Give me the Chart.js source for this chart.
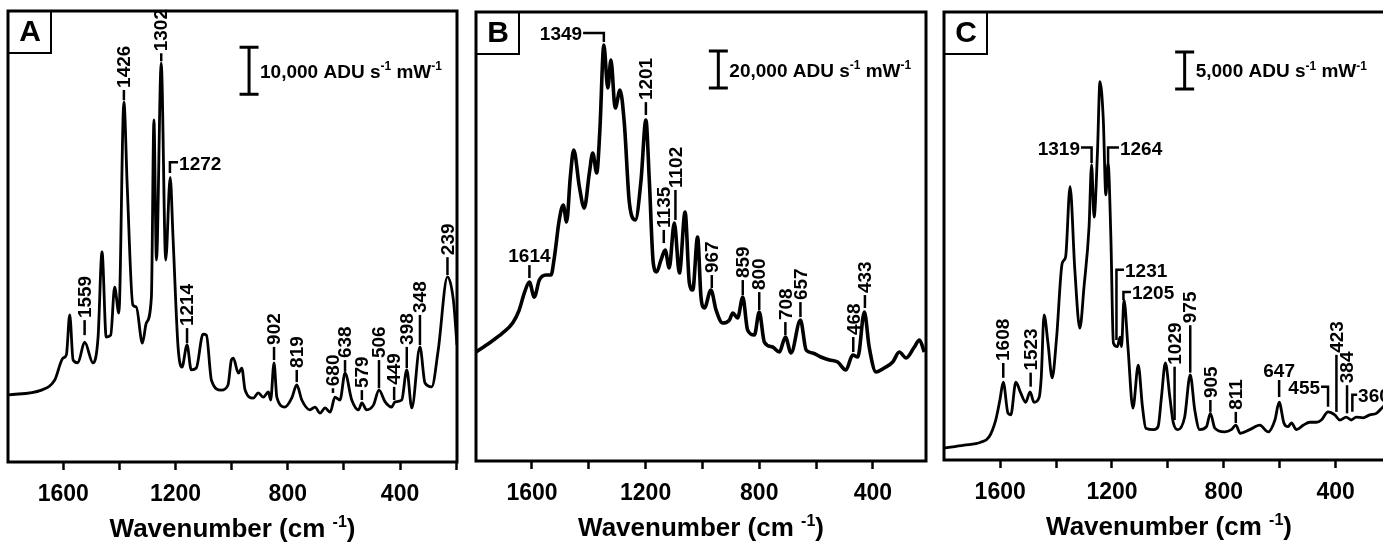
<!DOCTYPE html>
<html>
<head>
<meta charset="utf-8">
<title>Raman spectra A, B, C</title>
<script src="https://cdn.jsdelivr.net/npm/chart.js@4.4.1/dist/chart.umd.min.js"></script>
<style>
  html, body { margin: 0; padding: 0; background: #fff; }
  body { width: 1383px; height: 542px; overflow: hidden; position: relative; }
  canvas.panel { position: absolute; top: 0; }
</style>
</head>
<body>
<canvas id="chartA" class="panel" width="462" height="542" style="left:0px"></canvas>
<canvas id="chartB" class="panel" width="466" height="542" style="left:466px"></canvas>
<canvas id="chartC" class="panel" width="466" height="542" style="left:934px"></canvas>
<script>
// ---- panel A (intensity in 1000 ADU s-1 mW-1) ----
const aWave = [1797, 1678, 1631, 1601, 1589, 1577, 1565, 1548, 1524, 1494, 1476, 1462, 1447, 1431, 1417, 1402,
  1384, 1372, 1352, 1340, 1318, 1304, 1286, 1277, 1268, 1251, 1235, 1219, 1209, 1191, 1177, 1159, 1144, 1126,
  1102, 1090, 1072, 1037, 1013, 1001, 994, 976, 964, 952, 923, 905, 887, 869, 861, 849, 839, 810, 786, 768, 750,
  721, 703, 685, 667, 649, 632, 614, 596, 572, 548, 536, 519, 495, 475, 453, 430, 418, 394, 376, 358, 329, 311,
  287, 264, 231, 210, 197];
const aInt = [14.3, 15.3, 17.4, 22.1, 22.8, 31.3, 21.7, 21.1, 25.5, 21.1, 26.6, 44.7, 26.6, 27.0, 37.2, 31.7,
  76.6, 58.5, 33.4, 33.0, 25.3, 29.6, 35.1, 72.8, 43.0, 84.9, 43.0, 60.6, 47.9, 24.5, 20.2, 24.9, 19.6, 20.0,
  27.2, 27.0, 17.4, 15.3, 16.4, 21.7, 22.1, 18.9, 20.0, 15.3, 13.6, 14.7, 13.8, 14.9, 13.2, 21.1, 13.8, 11.7, 13.6,
  16.4, 13.2, 11.1, 11.7, 10.4, 11.5, 10.6, 13.8, 13.2, 18.9, 13.2, 11.1, 12.6, 11.1, 12.1, 15.3, 12.8, 11.7, 12.8,
  13.2, 19.6, 11.5, 24.5, 16.8, 16.0, 23.8, 39.4, 34.5, 24.9];
const aPeakText = ['1559', '1426', '1302', '1272', '1214', '902', '819', '680', '638', '579', '506', '449', '398', '348', '239'];
const aPeakPos  = [1524, 1384, 1251, 1220, 1159, 849, 768, 639, 596, 536, 475, 421, 376, 329, 231];
const aPeakLow  = [27.0, 77.0, 85.3, 61.5, 25.3, 21.7, 17.0, 14.7, 19.2, 13.2, 15.7, 13.2, 20.0, 24.9, 39.8];
const aPeakHigh = [30.2, 79.2, 87.0, 63.8, 28.5, 24.5, 19.6, 15.7, 21.7, 15.3, 21.7, 16.0, 24.5, 31.3, 43.6];
const aPeakKind = ['v', 'v', 'v', 'R', 'v', 'v', 'v', 'v', 'v', 'v', 'v', 'v', 'v', 'v', 'v'];
const aPeakArm  = [null, null, null, 1191, null, null, null, null, null, null, null, null, null, null, null];
const aBar = [938, 78.3, 10];          // wavenumber, base, length (1000 ADU)
const aBarText = '10,000';

// ---- panel B ----
const bWave = [1797, 1750, 1703, 1668, 1645, 1627, 1609, 1592, 1574, 1551, 1533, 1521, 1504, 1490, 1478, 1465,
  1453, 1433, 1416, 1398, 1386, 1372, 1361, 1347, 1333, 1322, 1307, 1290, 1275, 1257, 1236, 1216, 1199, 1187,
  1173, 1161, 1146, 1131, 1117, 1099, 1081, 1061, 1046, 1034, 1017, 1005, 993, 970, 952, 929, 905, 893, 876, 858,
  841, 817, 800, 782, 753, 729, 708, 688, 655, 635, 612, 583, 553, 524, 495, 471, 453, 430, 413, 389, 360, 330,
  307, 283, 254, 236, 219];
const bInt = [58.9, 63.8, 69.2, 74.6, 81.6, 90.8, 96.7, 88.6, 97.8, 100.5, 100.5, 110.3, 130.3, 138.4, 129.2, 153.5,
  168.1, 148.1, 136.7, 155.7, 166.5, 155.7, 178.9, 224.8, 201.6, 216.7, 190.8, 200.5, 182.7, 139.4, 130.3, 151.9,
  184.3, 151.9, 107.0, 102.2, 108.6, 114.0, 104.3, 128.6, 101.6, 134.6, 96.2, 92.4, 121.1, 88.6, 82.7, 92.4, 81.6,
  74.6, 76.2, 80.0, 77.3, 88.6, 70.8, 68.1, 80.5, 64.3, 61.6, 58.9, 67.0, 58.4, 76.2, 60.0, 58.4, 56.2, 54.6, 53.5,
  49.2, 57.3, 56.2, 80.5, 61.6, 48.1, 50.3, 53.5, 58.9, 55.7, 61.6, 65.4, 58.9];
const bPeakText = ['1614', '1349', '1201', '1135', '1102', '967', '859', '800', '708', '657', '468', '433'];
const bPeakPos  = [1609, 1347, 1199, 1136, 1095, 967, 858, 800, 708, 655, 469, 428];
const bPeakLow  = [98.9, 226.5, 187.0, 117.8, 130.3, 93.5, 89.7, 81.6, 68.1, 77.8, 58.9, 82.7];
const bPeakHigh = [105.9, 231.3, 194.0, 124.9, 146.5, 100.5, 97.8, 91.3, 75.1, 85.9, 67.0, 89.7];
const bPeakKind = ['up', 'L', 'v', 'v', 'v', 'v', 'v', 'v', 'v', 'v', 'v', 'v'];
const bPeakArm  = [null, 1420, null, null, null, null, null, null, null, null, null, null];
const bBar = [944, 201.6, 20];
const bBarText = '20,000';

// ---- panel C ----
const cWave = [1801, 1729, 1670, 1640, 1616, 1601, 1589, 1572, 1562, 1544, 1527, 1509, 1493, 1479, 1461, 1453,
  1443, 1429, 1414, 1398, 1378, 1366, 1350, 1333, 1315, 1300, 1282, 1273, 1264, 1252, 1243, 1231, 1222, 1214,
  1204, 1195, 1181, 1171, 1166, 1157, 1143, 1125, 1106, 1091, 1079, 1050, 1035, 1023, 1009, 993, 981, 964, 940,
  920, 904, 886, 862, 848, 832, 797, 773, 757, 741, 707, 671, 641, 617, 602, 585, 570, 558, 540, 516, 492, 469,
  451, 427, 403, 385, 362, 344, 326, 302, 278, 254, 230, 200];
const cInt = [1.6, 2.0, 2.4, 3.1, 5.4, 8.1, 10.5, 6.3, 6.1, 10.5, 9.1, 7.8, 9.2, 7.8, 8.4, 11.2,
  19.6, 15.8, 11.1, 16.6, 26.6, 27.4, 36.9, 25.7, 17.8, 23.4, 31.5, 39.9, 32.8, 41.5, 51.1, 45.9, 35.8, 40.1,
  30.1, 15.8, 15.3, 16.6, 15.3, 21.6, 15.3, 7.0, 12.8, 7.2, 4.3, 4.1, 4.5, 8.5, 13.1, 8.5, 5.1, 4.1, 5.8,
  11.5, 6.8, 4.1, 4.5, 6.3, 4.3, 3.8, 4.1, 4.7, 3.6, 4.1, 4.7, 3.8, 5.4, 7.8, 5.0, 4.5, 5.0, 4.1, 4.7, 5.1, 5.1,
  5.4, 6.5, 6.1, 5.4, 5.8, 5.4, 5.8, 5.7, 6.1, 6.3, 7.2, 8.1];
const cPeakText = ['1608', '1523', '1319', '1264', '1231', '1205', '1029', '975', '905', '811', '647', '455', '423', '384', '360'];
const cPeakPos  = [1589, 1491, 1273, 1214, 1184, 1159, 976, 920, 848, 757, 602, 427, 397, 359, 340];
const cPeakLow  = [11.1, 9.9, 40.1, 40.1, 16.2, 21.6, 5.4, 11.8, 6.5, 5.0, 8.5, 7.2, 6.5, 6.3, 6.5];
const cPeakHigh = [13.1, 11.8, 42.2, 42.2, 25.7, 22.7, 12.6, 18.2, 8.1, 6.5, 10.8, 9.9, 14.2, 10.1, 8.8];
const cPeakKind = ['v', 'v', 'L', 'R', 'R', 'R', 'v', 'v', 'v', 'v', 'up', 'L', 'v', 'v', 'R'];
const cPeakArm  = [null, null, 1311, 1175, 1157, 1132, null, null, null, null, null, 452, null, null, 323];
const cBar = [940, 50.1, 5];
const cBarText = '5,000';

// x axis: tick marks every 200, labels every 400
const tickMarks = [1600, 1400, 1200, 1000, 800, 600, 400, 200];
const tickValues = [1600, 1200, 800, 400];
const FONT = '"Liberation Sans", Arial, Helvetica, sans-serif';

// draw text runs, some of them as superscript; returns end x
function drawRuns(ctx, x, y, runs, size, measureOnly) {
    runs.forEach(function(r) {
        const sup = r[1];
        const s = sup ? Math.round(size * 0.62) : size;
        ctx.font = 'bold ' + s + 'px ' + FONT;
        if (!measureOnly) {
            ctx.fillText(r[0], x, sup ? y - size * 0.4 : y);
        }
        x += ctx.measureText(r[0]).width;
    });
    return x;
}

const panelDecor = {
    id: 'panelDecor',
    afterDatasetsDraw(chart, args, opts) {
        const ctx = chart.ctx;
        const a = chart.chartArea;
        const xs = chart.scales.x;
        const ys = chart.scales.y;
        ctx.save();
        ctx.strokeStyle = '#000';
        ctx.fillStyle = '#000';

        // frame
        ctx.lineWidth = 3;
        ctx.strokeRect(a.left, a.top, a.right - a.left, a.bottom - a.top);

        // panel letter
        ctx.lineWidth = 2;
        ctx.strokeRect(a.left, a.top, 43, 42);
        ctx.font = 'bold 30px ' + FONT;
        ctx.textAlign = 'center';
        ctx.textBaseline = 'middle';
        ctx.fillText(opts.letter, a.left + 22, a.top + 22);

        // peak labels
        ctx.lineWidth = 2.5;
        ctx.font = 'bold 19px ' + FONT;
        opts.text.forEach(function(t, i) {
            const px = xs.getPixelForValue(opts.pos[i]);
            const y0 = ys.getPixelForValue(opts.low[i]);
            const y1 = ys.getPixelForValue(opts.high[i]);
            const kind = opts.kind[i];
            ctx.beginPath();
            ctx.moveTo(px, y0);
            ctx.lineTo(px, y1);
            let tx = px;
            if (kind === 'L' || kind === 'R') {
                tx = xs.getPixelForValue(opts.arm[i]);
                ctx.lineTo(tx, y1);
            }
            ctx.stroke();
            if (kind === 'v') {
                ctx.save();
                ctx.translate(px + 1, y1 - 2);
                ctx.rotate(-Math.PI / 2);
                ctx.textAlign = 'left';
                ctx.textBaseline = 'middle';
                ctx.fillText(t, 0, 0);
                ctx.restore();
            } else if (kind === 'up') {
                ctx.textAlign = 'center';
                ctx.textBaseline = 'alphabetic';
                ctx.fillText(t, px, y1 - 3);
            } else {
                ctx.textAlign = kind === 'L' ? 'right' : 'left';
                ctx.textBaseline = 'middle';
                ctx.fillText(t, kind === 'L' ? tx - 1 : tx + 1, y1 + 2);
            }
        });

        // intensity scale bar
        const bx = xs.getPixelForValue(opts.bar[0]);
        const b0 = ys.getPixelForValue(opts.bar[1]);
        const b1 = ys.getPixelForValue(opts.bar[1] + opts.bar[2]);
        ctx.lineWidth = 3;
        ctx.beginPath();
        ctx.moveTo(bx, b0); ctx.lineTo(bx, b1);
        ctx.moveTo(bx - 9.5, b0); ctx.lineTo(bx + 9.5, b0);
        ctx.moveTo(bx - 9.5, b1); ctx.lineTo(bx + 9.5, b1);
        ctx.stroke();
        ctx.textAlign = 'left';
        ctx.textBaseline = 'alphabetic';
        drawRuns(ctx, bx + 11, (b0 + b1) / 2 + 7,
            [[opts.barText + ' ADU s', false], ['-1', true], [' mW', false], ['-1', true]], 19);

        // axis title
        const title = [['Wavenumber (cm ', false], ['-1', true], [')', false]];
        const w = drawRuns(ctx, 0, 0, title, 26, true);
        drawRuns(ctx, (a.left + a.right) / 2 - w / 2, a.bottom + 75, title, 26);
        ctx.restore();
    }
};

function makePanel(id, wave, inten, xMin, xMax, yMax, axisH, pad, lineW, decor) {
    const canvas = document.getElementById(id);
    return new Chart(canvas.getContext('2d'), {
        type: 'line',
        data: {
            datasets: [{
                data: wave.map(function(w, i) { return { x: w, y: inten[i] }; }),
                borderColor: '#000',
                borderWidth: lineW,
                pointRadius: 0,
                cubicInterpolationMode: 'monotone',
                fill: false
            }]
        },
        options: {
            responsive: false,
            animation: false,
            devicePixelRatio: 1,
            layout: { padding: pad },
            plugins: {
                legend: { display: false },
                tooltip: { enabled: false },
                panelDecor: decor
            },
            scales: {
                x: {
                    type: 'linear',
                    reverse: true,
                    min: xMin,
                    max: xMax,
                    afterBuildTicks: function(s) {
                        s.ticks = tickMarks.filter(function(v) { return v >= xMin && v <= xMax; })
                            .map(function(v) { return { value: v }; });
                    },
                    afterFit: function(s) {
                        // fixed axis band, no extra side padding for edge labels
                        s.height = axisH;
                        s.paddingLeft = 0;
                        s.paddingRight = 0;
                    },
                    border: { display: false },
                    grid: { drawOnChartArea: false, drawTicks: true, tickLength: 8, tickWidth: 2.5, tickColor: '#000' },
                    ticks: {
                        autoSkip: false,
                        maxRotation: 0,
                        padding: 11,
                        color: '#000',
                        font: { family: FONT, size: 23, weight: 'bold' },
                        callback: function(v) { return tickValues.indexOf(v) >= 0 ? String(v) : ''; }
                    }
                },
                y: { display: false, min: 0, max: yMax }
            }
        },
        plugins: [panelDecor]
    });
}

makePanel('chartA', aWave, aInt, 197, 1797, 96.0, 80, { left: 8, right: 5, top: 11, bottom: 0 }, 2.8, {
    letter: 'A', text: aPeakText, pos: aPeakPos, low: aPeakLow, high: aPeakHigh, kind: aPeakKind, arm: aPeakArm,
    bar: aBar, barText: aBarText
});
makePanel('chartB', bWave, bInt, 213, 1797, 242.7, 81, { left: 10, right: 6, top: 12, bottom: 0 }, 3.6, {
    letter: 'B', text: bPeakText, pos: bPeakPos, low: bPeakLow, high: bPeakHigh, kind: bPeakKind, arm: bPeakArm,
    bar: bBar, barText: bBarText
});
makePanel('chartC', cWave, cInt, 191, 1801, 60.5, 82, { left: 10, right: 6, top: 12, bottom: 0 }, 2.8, {
    letter: 'C', text: cPeakText, pos: cPeakPos, low: cPeakLow, high: cPeakHigh, kind: cPeakKind, arm: cPeakArm,
    bar: cBar, barText: cBarText
});
</script>
</body>
</html>
